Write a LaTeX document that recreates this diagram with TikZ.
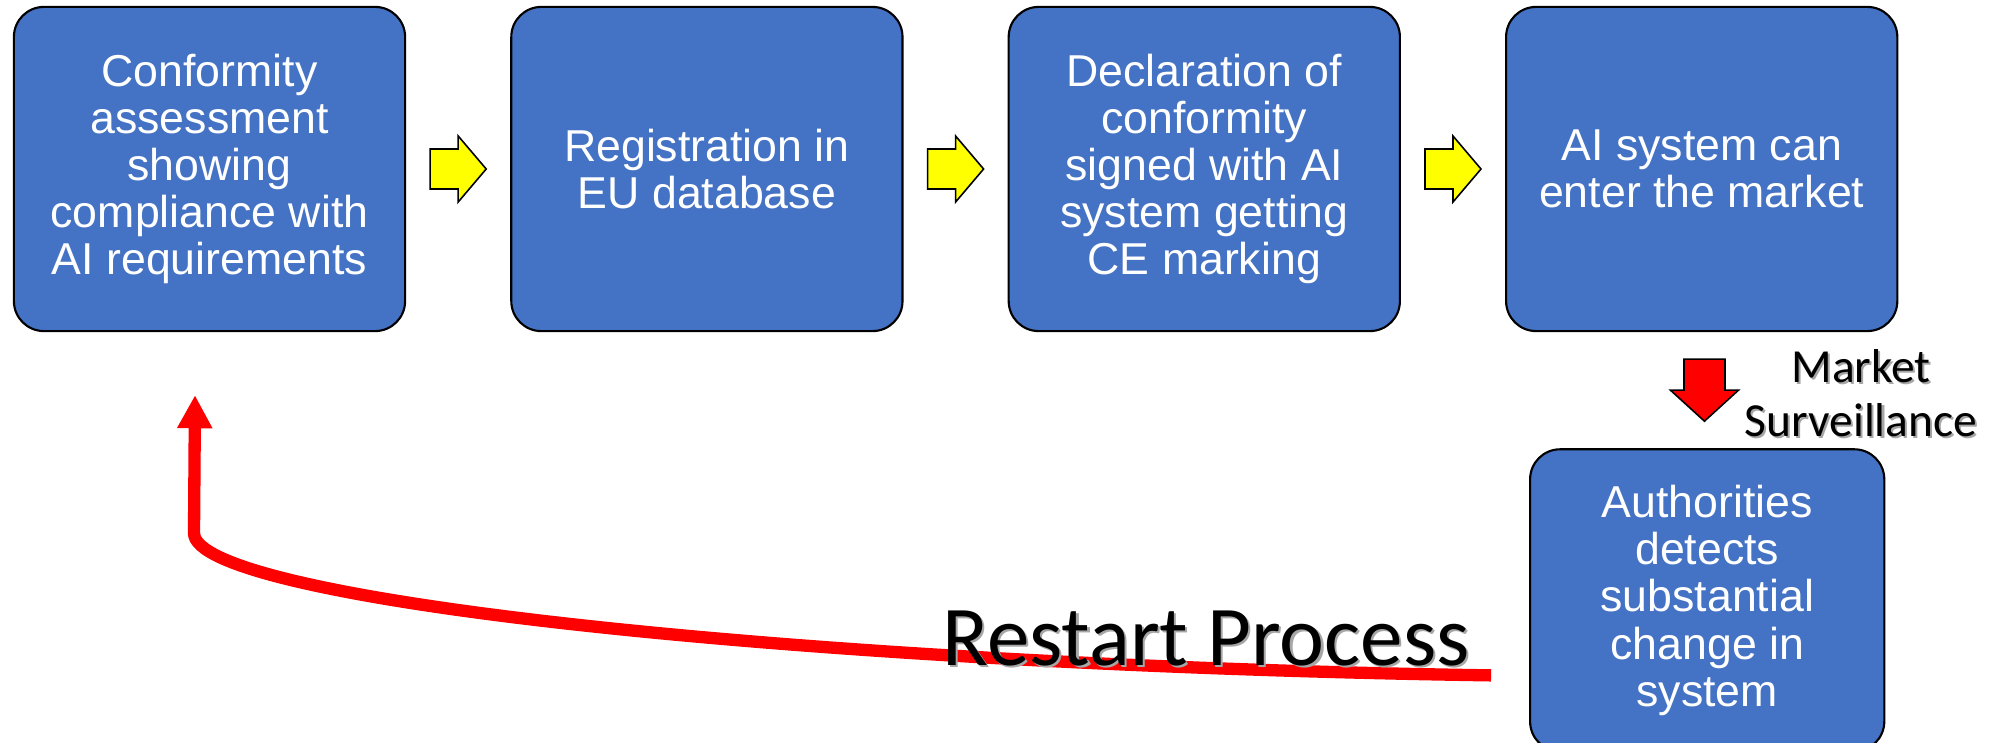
\documentclass[tikz,border=0pt]{standalone}
\usepackage{fontspec}
\setmainfont{Liberation Sans}
\newfontfamily\calibri{Carlito}
\usetikzlibrary{positioning,calc,arrows.meta}
\newcommand{\shtext}[1]{\rlap{\kern0.6pt\raisebox{-0.6pt}{\textcolor{black!35}{#1}}}#1}
\begin{document}
\begin{tikzpicture}[x=0.01cm, y=-0.01cm,
        stagebox/.style={draw=black, line width=0.6pt, fill=clbox, rounded corners=0.3cm,
            minimum width=3.91cm, minimum height=3.24cm, align=center, text=white,
            font=\fontsize{12.7}{13.4}\selectfont},
        yarrow/.style={draw=black, line width=0.45pt, fill=clyel},
        rarrow/.style={draw=black, line width=0.45pt, fill=clred},
        restart/.style={draw=clred, line width=3.5pt, -{Triangle[length=9.4pt,width=9.4pt]}}]
    \definecolor{clbox}{HTML}{4472C4}
    \definecolor{clyel}{HTML}{FFFF00}
    \definecolor{clred}{HTML}{FF0000}
    \useasboundingbox (0,0) rectangle (1997,742);
    \node[stagebox] (b1) at (209.5,169) {Conformity\\assessment\\showing\\compliance with\\AI requirements};
    \node[stagebox, right=1.04cm of b1] (b2) {Registration in\\EU database};
    \node[stagebox, right=1.04cm of b2] (b3) {Declaration of\\conformity\\signed with AI\\system getting\\CE marking};
    \node[stagebox, right=1.04cm of b3] (b4) {AI system can\\enter the market};
    \node[stagebox, minimum width=3.54cm, minimum height=3.02cm, below=1.16cm of b4, xshift=0.055cm] (b5) {Authorities\\detects\\substantial\\change in\\system};
    % yellow block arrows
    \foreach \a/\b in {b1/b2,b2/b3,b3/b4}
        \draw[yarrow] ($(\a.east)!0.5!(\b.west)$) ++(-28,-20) -- ++(28,0) -- ++(0,-13) -- ++(28,33) -- ++(-28,33) -- ++(0,-13) -- ++(-28,0) -- cycle;
    % red block arrow
    \draw[rarrow] ($(b4.south)!0.5!(b5.north)$) ++(-20.5,-31) -- ++(41,0) -- ++(0,31) -- ++(13.5,0) -- ++(-34,31) -- ++(-34,-31) -- ++(13.5,0) -- cycle;
    \node[font=\calibri\fontsize{13.5}{15.4}\selectfont, align=center] (ms) at (1861,394) {\shtext{Market}\\\shtext{Surveillance}};
    % restart loop
    \coordinate (rsend) at ($(b5.west)+(-38,75)$);
    \coordinate (rstip) at ($(b1.south)+(-14.5,63)$);
    \draw[restart] (rsend) .. controls (800,665) and (194,600) .. (194,533) -- (rstip);
    \node[font=\calibri\fontsize{24.2}{29}\selectfont, anchor=base] (rs) at (1206,665) {\shtext{Restart Process}};
\end{tikzpicture}
\end{document}
